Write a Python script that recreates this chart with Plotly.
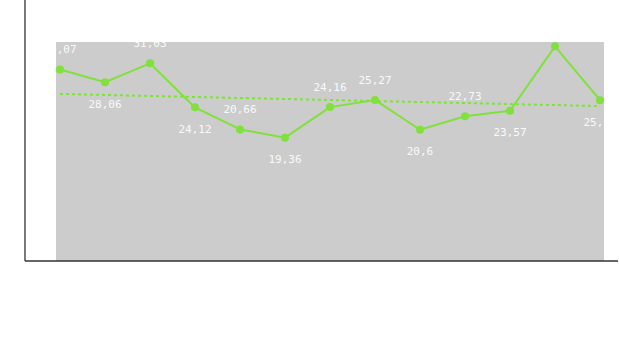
import numpy as np
import plotly.graph_objects as go

# ---- data ----
x_index = list(range(13))
values = [30.07, 28.06, 31.03, 24.12, 20.66, 19.36, 24.16, 25.27, 20.6, 22.73, 23.57, 33.7, 25.25]
label_positions = ["top center", "bottom center", "top center", "bottom center", "top center",
                   "bottom center", "top center", "top center", "bottom center", "top center",
                   "bottom center", "top center", "bottom center"]
labels = [("%g" % v).replace(".", ",") for v in values]

GREEN = "#80e03c"
BG = "#cccccc"

coef = np.polyfit(x_index, values, 1)
trend = list(np.polyval(coef, x_index))

# invisible marker sizes control the label offset from the point
offset_sizes = [20 if p.startswith("top") else 26 for p in label_positions]

fig = go.Figure()
fig.add_trace(go.Scatter(
    x=x_index, y=trend, mode="lines",
    line=dict(color=GREEN, width=2, dash="dot"),
    hoverinfo="skip", showlegend=False,
))
fig.add_trace(go.Scatter(
    x=x_index, y=values, mode="lines+markers",
    line=dict(color=GREEN, width=2),
    marker=dict(color=GREEN, size=8),
    showlegend=False,
))
fig.add_trace(go.Scatter(
    x=x_index, y=values, mode="markers+text",
    marker=dict(size=offset_sizes, color="rgba(0,0,0,0)", opacity=0,
                line=dict(width=0, color="rgba(0,0,0,0)")),
    text=labels, textposition=label_positions,
    textfont=dict(family="DejaVu Sans Mono", size=11, color="#fafafa"),
    hoverinfo="skip", showlegend=False, cliponaxis=True,
))

fig.update_layout(
    width=619, height=358,
    margin=dict(l=56, r=15, t=42, b=97),
    paper_bgcolor="#ffffff",
    plot_bgcolor=BG,
    xaxis=dict(range=[-0.089, 12.089], visible=False, showgrid=False, zeroline=False),
    yaxis=dict(range=[0, 34.38], visible=False, showgrid=False, zeroline=False),
    shapes=[
        dict(type="line", xref="paper", yref="paper", x0=-0.0566, x1=-0.0566, y0=0, y1=1.2,
             line=dict(color="#333333", width=1.3), layer="above"),
        dict(type="line", xref="paper", yref="paper", x0=-0.0566, x1=1.0255, y0=0, y1=0,
             line=dict(color="#333333", width=1.3), layer="above"),
    ],
)

fig.write_html("out.html")
